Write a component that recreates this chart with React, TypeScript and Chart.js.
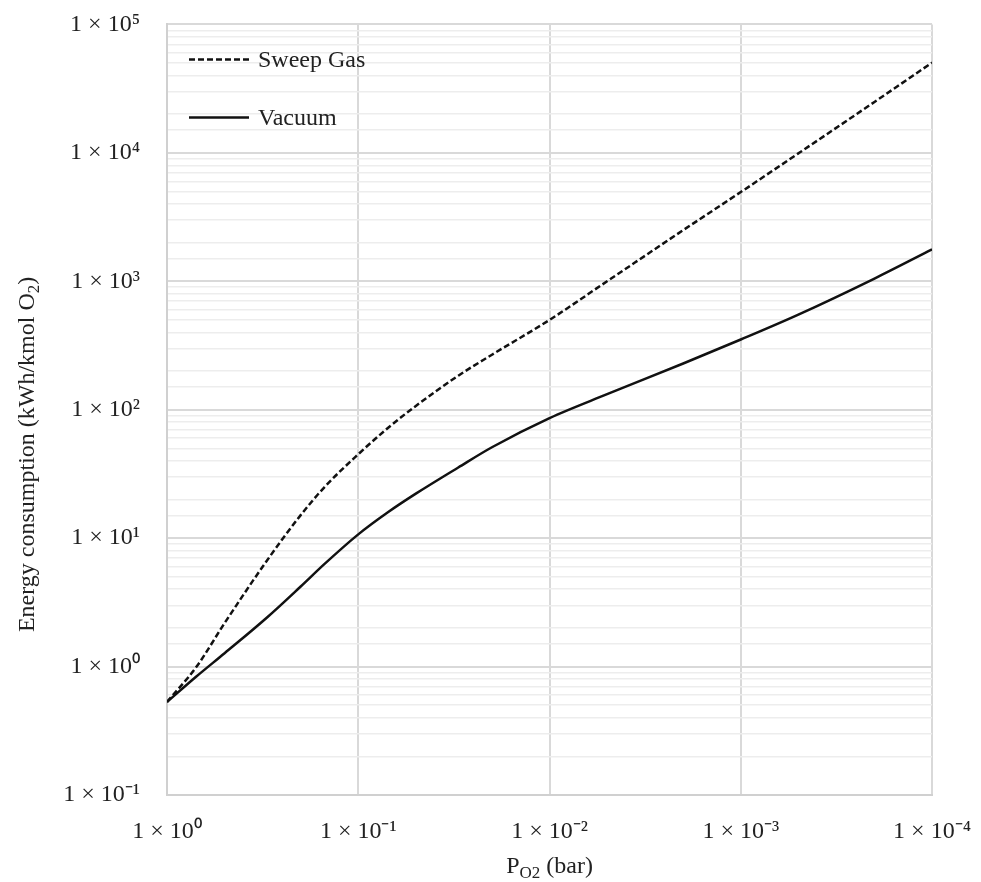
import React, { useEffect, useRef } from "react";
import { Chart, registerables } from "chart.js";

Chart.register(...registerables);

// ---- data ----
const xTickValues = [1, 0.1, 0.01, 0.001, 0.0001];

const pressure = [1, 0.7, 0.5, 0.3, 0.2, 0.15, 0.1, 0.07, 0.05, 0.03, 0.02, 0.01, 0.005, 0.002, 0.001, 0.0005, 0.0002, 0.0001];
const sweepE = [0.53, 1.0, 2.18, 6.7, 15.1, 25, 45, 72, 107, 184, 268, 500, 1000, 2500, 4950, 9900, 24900, 50400];
const vacuumE = [0.53, 0.84, 1.27, 2.41, 4.2, 6.3, 10.7, 15.9, 22.2, 35.5, 51, 86, 132, 229, 352, 550, 1050, 1770];

const seriesNames = ["Sweep Gas", "Vacuum"];
const xTitleMain = "P";
const xTitleSub = "O2";
const xTitleRest = " (bar)";
const yTitleMain = "Energy consumption (kWh/kmol O";
const yTitleSub = "2";
const yTitleRest = ")";

const FONT = "'Liberation Serif', 'Times New Roman', serif";

// canvas is slightly larger than the page so the plot area lands where the reference has it
const SHIFT_Y = 17;
const EXTRA_X = 12;

const SUP: Record<string, string> = {
  "0": "\u2070", "1": "\u00B9", "2": "\u00B2", "3": "\u00B3", "4": "\u2074",
  "5": "\u2075", "6": "\u2076", "7": "\u2077", "8": "\u2078", "9": "\u2079", "-": "\u207B",
};
function sciLabel(v: number): string {
  const e = Math.round(Math.log10(v));
  return "1 \u00D7 10" + String(e).split("").map((c) => SUP[c] || c).join("");
}
function isDecade(v: number): boolean {
  const l = Math.log10(v);
  return Math.abs(l - Math.round(l)) < 1e-6;
}

const titlesAndLegend = {
  id: "titlesAndLegend",
  afterDraw(chart: any) {
    const { ctx, chartArea } = chart;
    ctx.save();
    ctx.fillStyle = "#222";
    ctx.textBaseline = "alphabetic";

    const big = `24px ${FONT}`;
    const small = `17px ${FONT}`;

    // x title with subscript
    ctx.font = big;
    const w1 = ctx.measureText(xTitleMain).width;
    const w3 = ctx.measureText(xTitleRest).width;
    ctx.font = small;
    const w2 = ctx.measureText(xTitleSub).width;
    const cx = (chartArea.left + chartArea.right) / 2;
    let x = cx - (w1 + w2 + w3) / 2;
    const by = chartArea.bottom + 78;
    ctx.textAlign = "left";
    ctx.font = big;
    ctx.fillText(xTitleMain, x, by);
    x += w1;
    ctx.font = small;
    ctx.fillText(xTitleSub, x, by + 5);
    x += w2;
    ctx.font = big;
    ctx.fillText(xTitleRest, x, by);

    // y title rotated
    ctx.save();
    ctx.translate(34, chartArea.top + 430);
    ctx.rotate(-Math.PI / 2);
    ctx.font = big;
    const a1 = ctx.measureText(yTitleMain).width;
    const a3 = ctx.measureText(yTitleRest).width;
    ctx.font = small;
    const a2 = ctx.measureText(yTitleSub).width;
    let tx = -(a1 + a2 + a3) / 2;
    ctx.font = big;
    ctx.fillText(yTitleMain, tx, 0);
    tx += a1;
    ctx.font = small;
    ctx.fillText(yTitleSub, tx, 5);
    tx += a2;
    ctx.font = big;
    ctx.fillText(yTitleRest, tx, 0);
    ctx.restore();

    // legend inside plot area
    const lx = chartArea.left + 22;
    const rows = [chartArea.top + 35, chartArea.top + 93];
    chart.data.datasets.forEach((ds: any, i: number) => {
      const y = rows[i];
      ctx.beginPath();
      ctx.strokeStyle = ds.borderColor;
      ctx.lineWidth = ds.borderWidth;
      ctx.setLineDash(ds.borderDash || []);
      ctx.moveTo(lx, y);
      ctx.lineTo(lx + 60, y);
      ctx.stroke();
      ctx.setLineDash([]);
      ctx.font = big;
      ctx.fillStyle = "#222";
      ctx.textAlign = "left";
      ctx.fillText(ds.label, lx + 69, y + 8);
    });
    ctx.restore();
  },
};

export default function App() {
  const ref = useRef<HTMLCanvasElement | null>(null);
  useEffect(() => {
    if (!ref.current) return;
    const chart = new Chart(ref.current, {
      type: "line",
      data: {
        datasets: [
          {
            label: seriesNames[0],
            data: pressure.map((p, i) => ({ x: p, y: sweepE[i] })),
            borderColor: "#111",
            borderWidth: 2.5,
            borderDash: [6, 3],
            pointRadius: 0,
            cubicInterpolationMode: "monotone",
            fill: false,
          },
          {
            label: seriesNames[1],
            data: pressure.map((p, i) => ({ x: p, y: vacuumE[i] })),
            borderColor: "#111",
            borderWidth: 2.5,
            pointRadius: 0,
            cubicInterpolationMode: "monotone",
            fill: false,
          },
        ],
      },
      options: {
        responsive: false,
        animation: false,
        layout: { padding: { top: 0, right: 0, left: 0, bottom: 0 } },
        plugins: { legend: { display: false }, tooltip: { enabled: false }, title: { display: false } },
        scales: {
          x: {
            type: "logarithmic",
            reverse: true,
            min: 0.0001,
            max: 1,
            afterBuildTicks: (scale: any) => {
              scale.ticks = xTickValues.map((v) => ({ value: v, major: true }));
            },
            afterFit: (scale: any) => {
              scale.height = 87;
            },
            ticks: {
              autoSkip: false,
              maxRotation: 0,
              padding: 22,
              color: "#222",
              font: { family: FONT, size: 24 },
              callback: (v: any) => sciLabel(Number(v)),
            },
            grid: { color: "#d9d9d9", lineWidth: 2, drawTicks: false },
            border: { color: "#d0d0d0", width: 2 },
          },
          y: {
            type: "logarithmic",
            min: 0.1,
            max: 100000,
            afterFit: (scale: any) => {
              scale.width = 167;
            },
            ticks: {
              autoSkip: false,
              padding: 27,
              color: "#222",
              font: { family: FONT, size: 24 },
              callback: (v: any) => (isDecade(Number(v)) ? sciLabel(Number(v)) : ""),
            },
            grid: {
              drawTicks: false,
              color: (c: any) => (c.tick && isDecade(c.tick.value) ? "#d9d9d9" : "#ededed"),
              lineWidth: (c: any) => (c.tick && isDecade(c.tick.value) ? 2 : 1.5),
            },
            border: { color: "#d0d0d0", width: 2 },
          },
        },
      },
      plugins: [titlesAndLegend],
    } as any);
    return () => chart.destroy();
  }, []);
  return (
    <div style={{ position: "absolute", left: 0, top: 0, width: 981, height: 882, background: "#fff", overflow: "hidden" }}>
      <canvas
        ref={ref}
        width={981 + EXTRA_X}
        height={882 + SHIFT_Y}
        style={{ display: "block", position: "absolute", left: 0, top: -SHIFT_Y }}
      />
    </div>
  );
}
